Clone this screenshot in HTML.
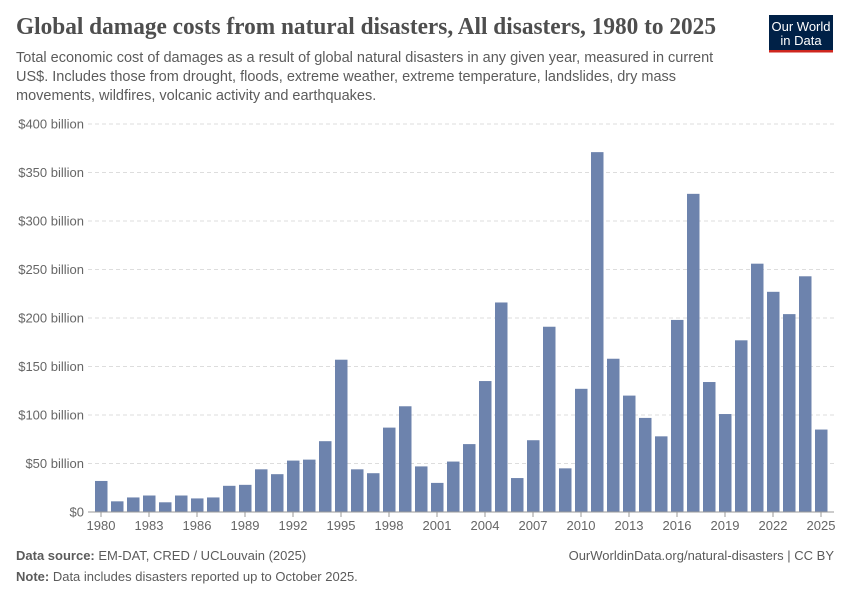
<!DOCTYPE html>
<html><head><meta charset="utf-8"><style>
body{margin:0;width:850px;height:600px;background:#fff;font-family:"Liberation Sans",sans-serif;overflow:hidden}
</style></head><body>
<svg id="s" width="850" height="600" xmlns="http://www.w3.org/2000/svg" font-family="Liberation Sans, sans-serif">
<text x="16" y="34" font-family="Liberation Serif, serif" font-size="24" font-weight="bold" fill="#4e4e4e" textLength="700" lengthAdjust="spacingAndGlyphs">Global damage costs from natural disasters, All disasters, 1980 to 2025</text>
<text font-size="14.5" fill="#5b5b5b"><tspan x="16" y="62">Total economic cost of damages as a result of global natural disasters in any given year, measured in current</tspan><tspan x="16" y="81">US$. Includes those from drought, floods, extreme weather, extreme temperature, landslides, dry mass</tspan><tspan x="16" y="100">movements, wildfires, volcanic activity and earthquakes.</tspan></text>
<rect x="769" y="15" width="64" height="35" fill="#002147"/><rect x="769" y="50" width="64" height="2.5" fill="#ce261e"/>
<text x="801" y="31" font-size="13" fill="#fff" text-anchor="middle">Our World</text>
<text x="801" y="45" font-size="13" fill="#fff" text-anchor="middle">in Data</text>
<g id="g"></g>
<text x="16" y="560" font-size="13" fill="#5b5b5b"><tspan font-weight="bold">Data source:</tspan> EM-DAT, CRED / UCLouvain (2025)</text>
<text x="834" y="560" font-size="13" fill="#5b5b5b" text-anchor="end">OurWorldinData.org/natural-disasters | CC BY</text>
<text x="16" y="581" font-size="13" fill="#5b5b5b"><tspan font-weight="bold">Note:</tspan> Data includes disasters reported up to October 2025.</text>
</svg>
<script>
var v=[32,11,15,17,10,17,14,15,27,28,44,39,53,54,73,157,44,40,87,109,47,30,52,70,135,216,35,74,191,45,127,371,158,120,97,78,198,328,134,101,177,256,227,204,243,85];
var h='';
for(var k=0;k<=8;k++){var y=512-k*50*0.97;
 if(k>0)h+='<line x1="88" x2="834" y1="'+y+'" y2="'+y+'" stroke="#ddd" stroke-dasharray="4,3"/>';
 h+='<text x="84" y="'+(y+4.5)+'" font-size="13" fill="#666" text-anchor="end">$'+(k*50)+(k?' billion':'')+'</text>';}
for(var i=0;i<v.length;i++){var hh=v[i]*0.97;h+='<rect x="'+(95+16*i)+'" y="'+(512-hh)+'" width="12.5" height="'+hh+'" fill="#6d83ad"/>';}
h+='<line x1="88" x2="834" y1="512" y2="512" stroke="#999"/>';
for(var i=0;i<v.length;i+=3){var x=101+16*i;h+='<line x1="'+x+'" x2="'+x+'" y1="512" y2="517" stroke="#999"/><text x="'+x+'" y="530" font-size="13" fill="#666" text-anchor="middle">'+(1980+i)+'</text>';}
document.getElementById('g').innerHTML=h;
</script>
</body></html>
